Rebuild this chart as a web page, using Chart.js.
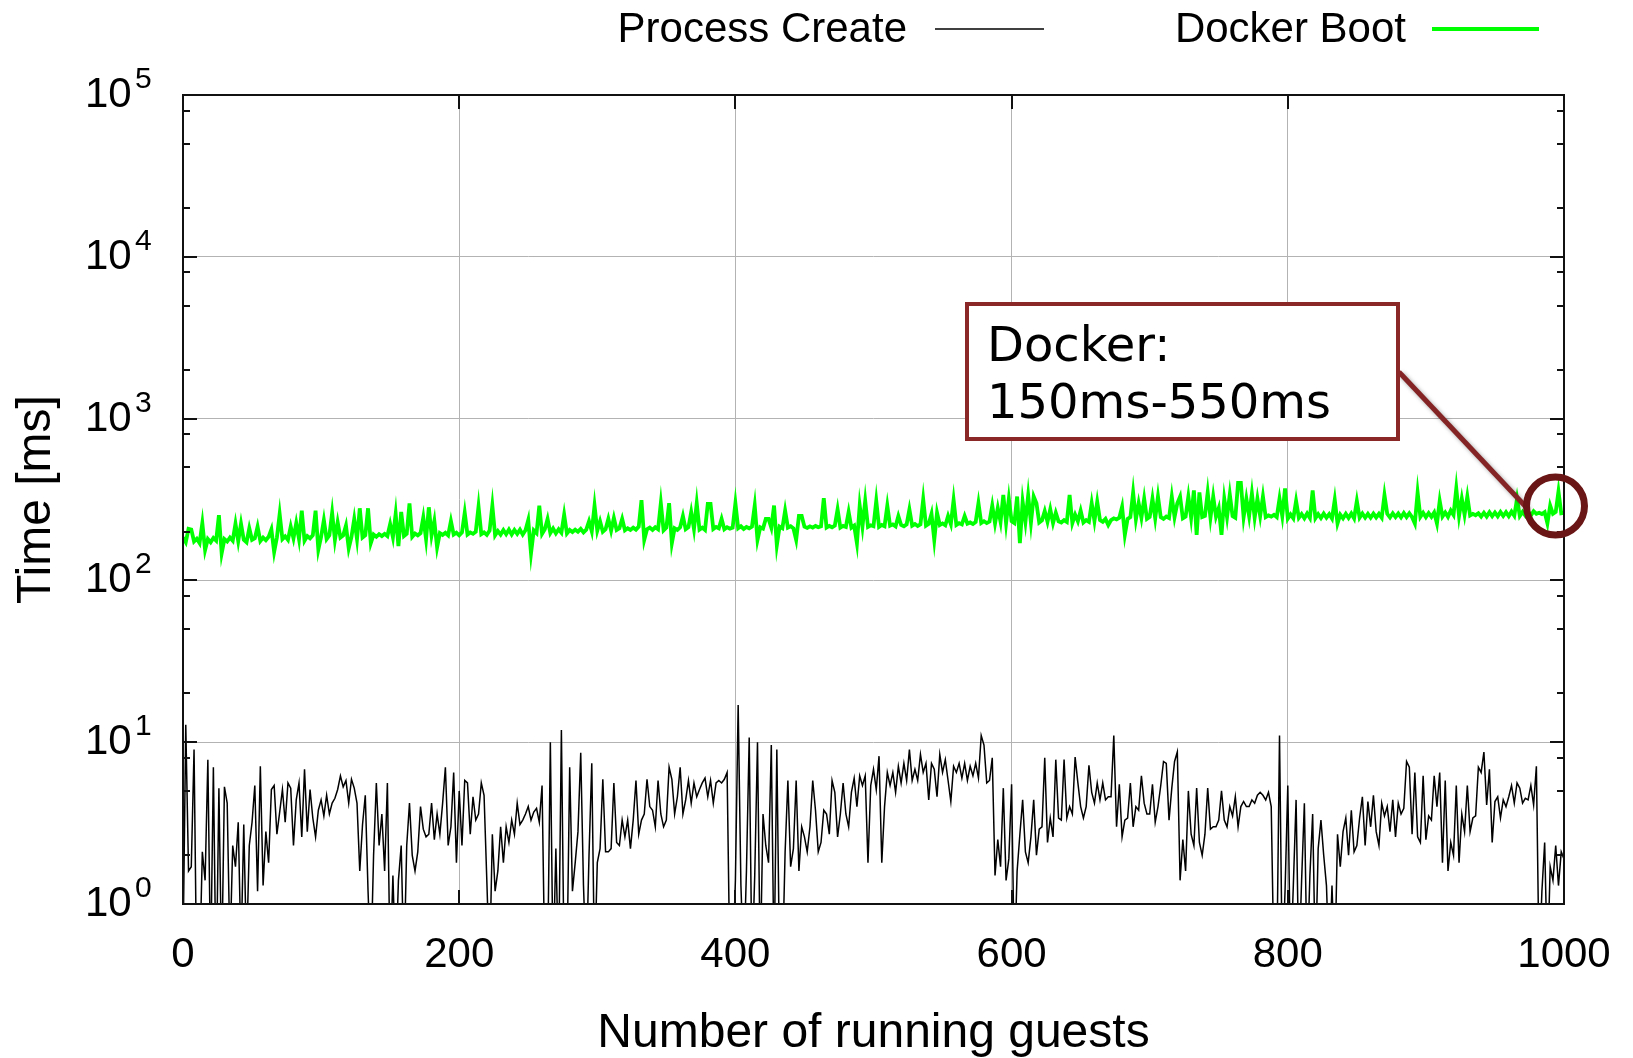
<!DOCTYPE html>
<html>
<head>
<meta charset="utf-8">
<title>Process create vs Docker boot</title>
<script src="https://cdn.jsdelivr.net/npm/chart.js@4.4.1/dist/chart.umd.min.js"></script>
<style>
    html, body { margin: 0; padding: 0; background: #fff; }
    #bootChart { display: block; }
</style>
</head>
<body>
<canvas id="bootChart" width="1633" height="1058"></canvas>
<script>
// values, one every 2 guests (0..1000)
const guestStep = 2;
const seriesNames = ['Process Create', 'Docker Boot'];
const xTicks = [0, 200, 400, 600, 800, 1000];
const yExponents = [0, 1, 2, 3, 4, 5];
const yMinorSteps = [2, 5, 8];
const noteLines = ['Docker:', '150ms-550ms'];

const processCreate = [
    0.5, 12.8, 1.6, 1.7, 9.0, 0.3, 0.4, 2.1, 1.4, 7.8,
    0.4, 7.0, 0.3, 5.2, 0.4, 5.3, 4.2, 0.5, 2.3, 1.7,
    3.2, 0.5, 3.1, 0.5, 2.3, 3.2, 5.4, 1.2, 7.1, 1.3,
    2.8, 1.8, 5.1, 5.4, 2.7, 3.7, 5.1, 3.2, 5.6, 5.2,
    2.3, 4.4, 5.6, 2.6, 6.8, 2.8, 5.1, 3.4, 2.6, 3.8,
    4.4, 3.5, 4.7, 3.6, 4.2, 4.5, 5.1, 6.2, 5.3, 5.8,
    4.2, 5.9, 5.2,
    4.2, 1.6, 3.1, 4.7, 1.2, 0.4, 2.0, 5.6, 2.3, 3.6,
    1.6, 5.6, 0.4, 1.5, 0.4, 1.4, 2.3, 0.4, 2.3, 4.2,
    2.0, 1.6, 2.1, 4.0, 2.9, 2.6, 2.7, 4.2, 2.5, 3.6,
    2.7, 4.2, 7.0, 2.3, 3.0, 6.5, 1.8, 5.0, 2.3, 5.8,
    5.6, 2.7, 4.6, 3.3, 3.6, 5.6, 4.7, 1.4, 0.4, 2.7,
    1.2, 1.6, 3.0, 1.8, 3.0, 2.4, 3.3, 2.7, 4.2, 3.1,
    3.3, 3.6, 4.0, 3.3, 3.7, 3.9, 3.2, 5.4,
    0.4, 0.4, 10.0, 0.4, 2.2, 0.4, 11.9, 0.4, 0.4, 7.0,
    1.2, 1.8, 2.8, 8.6, 1.3, 0.4, 2.0, 7.4, 0.4, 1.8,
    2.2, 5.9, 2.1, 2.1, 2.2, 5.6, 2.4, 2.3, 3.3, 2.6,
    3.3, 2.2, 3.3, 5.8, 2.7, 3.3, 3.6, 5.9, 4.0, 3.8,
    3.0, 5.8, 3.6, 3.0, 3.3, 7.0, 5.9, 3.6, 4.6, 7.0,
    3.6, 4.4, 5.8, 4.2, 5.6, 4.6, 5.1, 5.6, 6.0, 4.6,
    5.8, 4.2, 5.6, 5.8, 5.6, 5.9, 6.5, 0.4,
    0.4, 1.4, 17.0, 1.3, 0.4, 1.6, 10.7, 0.4, 1.5, 10.0,
    0.4, 3.6, 2.3, 1.8, 9.6, 0.4, 9.0, 0.4, 0.4, 2.1,
    5.8, 1.7, 2.2, 5.8, 1.6, 3.0, 2.6, 2.1, 3.0, 5.8,
    3.8, 2.1, 2.4, 3.8, 3.6, 2.7, 5.8, 4.9, 2.6, 3.6,
    5.6, 3.6, 3.0, 4.9, 6.0, 4.0, 6.2, 5.4, 6.2, 1.8,
    5.4, 6.8, 5.1, 8.2, 1.8, 4.0, 6.5, 5.4, 6.5, 4.9,
    7.1, 5.6, 7.4, 5.8, 9.0, 5.8, 6.8, 5.8, 8.4, 6.5,
    7.4, 4.4, 7.4, 6.8, 4.6, 8.4, 6.5, 7.8, 5.8, 4.3,
    7.1, 6.5, 7.4, 6.0, 7.4, 5.8, 7.1, 6.2, 7.4, 6.0,
    11.0, 9.6, 5.6, 5.8, 8.0, 1.5,
    2.5, 1.7, 5.2, 1.4, 1.9, 5.5, 0.4, 1.6, 2.7, 4.4,
    2.1, 1.8, 2.6, 4.4, 2.0, 2.9, 3.0, 8.0, 2.4, 3.4,
    2.6, 7.8, 3.4, 3.3, 7.8, 3.4, 4.0, 3.6, 8.1, 5.6,
    4.0, 3.4, 4.0, 7.2, 4.9, 4.2, 5.6, 4.4, 5.6, 4.4,
    4.6, 4.6, 11.0, 3.0, 5.5, 2.6, 3.3, 3.4, 5.6, 3.0,
    4.0, 3.8, 6.2, 4.2, 3.6, 3.6, 5.5, 3.2, 4.0, 5.4,
    7.6, 7.4, 3.3, 5.2, 7.6, 8.7, 1.4, 2.5, 1.6, 5.0,
    2.7, 2.3, 5.2, 2.4, 2.0, 2.7, 5.2, 2.9, 3.0, 3.0,
    3.3, 5.0, 3.3, 3.0, 4.0, 3.5, 4.6, 3.0, 4.0, 4.3,
    4.0, 4.0, 4.4, 4.2, 4.7, 4.9, 4.7, 4.4, 4.9, 4.0,
    0.4, 0.4, 11.0, 0.4, 1.2, 5.4, 0.4, 1.3, 4.4, 0.4,
    1.4, 4.2, 0.4, 1.5, 3.6, 0.4, 2.2, 3.3, 2.0, 1.3,
    0.4, 1.3, 0.4, 2.7, 1.7, 2.8, 3.4, 2.0, 3.8, 2.1,
    2.3, 3.4, 4.6, 2.3, 4.3, 3.0, 4.7, 2.8, 2.3, 4.2,
    3.5, 4.0, 2.8, 4.4, 2.6, 4.2, 3.6, 3.9, 7.6, 7.0,
    2.7, 6.5, 2.6, 2.4, 6.2, 2.5, 3.5, 3.3, 6.2, 4.0,
    6.5, 1.8, 5.8, 1.6, 2.4, 2.0, 5.4, 1.8, 3.6, 2.8,
    5.4, 2.8, 3.4, 3.5, 7.0, 6.5, 8.7, 4.1, 6.8, 2.4,
    4.3, 4.6, 3.4, 4.4, 4.0, 4.6, 5.4, 4.2, 5.6, 5.2,
    4.2, 4.5, 4.4, 5.4, 4.1, 7.1, 0.4, 1.2, 2.4, 0.4,
    1.7, 1.4, 2.3, 1.3, 2.1, 1.9
];

const dockerBoot = [
    184, 172, 208, 206, 174, 181, 170, 226, 154, 180,
    172, 183, 176, 253, 147, 180, 174, 184, 176, 224,
    175, 224, 178, 172, 210, 178, 182, 215, 175, 184,
    177, 186, 207, 150, 184, 257, 180, 187, 178, 215,
    182, 226, 180, 270, 176, 188, 182, 190, 270, 155,
    186, 236, 180, 190, 262, 178, 229, 184, 190, 218,
    158, 186, 240, 180, 279, 184, 190, 279, 170, 192,
    186, 193, 188, 194, 188, 223, 185, 258, 163, 265,
    188, 194, 299, 186, 195, 190, 196, 245, 180, 283,
    190, 233, 160, 196, 191, 197, 190, 233, 192, 197,
    190, 198, 262, 192, 198, 194, 200, 286, 193, 198,
    191, 203, 290, 190, 202, 192, 205, 193, 206, 192,
    205, 194, 206, 192, 204, 236, 147, 204, 196, 290,
    194, 207, 240, 196, 209, 195, 207, 197, 255, 195,
    205, 199, 206, 200, 208, 198, 206, 232, 201, 290,
    203, 232, 200, 207, 240, 203, 243, 205, 210, 240,
    204, 210, 205, 212, 206, 215, 313, 178, 207, 212,
    205, 213, 207, 300, 204, 212, 300, 170, 210, 205,
    213, 250, 207, 213, 265, 208, 300, 206, 212, 205,
    297, 297, 208, 214, 210, 240, 207, 213, 209, 212,
    300, 210, 216, 208, 214, 210, 215, 290, 178, 213,
    209, 240, 240, 212, 290, 165, 215, 210, 270, 212,
    216, 210, 178, 250, 250, 215, 211, 216, 212, 217,
    213, 216, 322, 212, 217, 213, 218, 275, 212, 217,
    214, 265, 212, 218, 170, 290, 215, 310, 214, 219,
    216, 310, 214, 220, 216, 290, 218, 222, 216, 250,
    220, 216, 222, 275, 218, 223, 217, 222, 317, 218,
    224, 258, 178, 262, 220, 225, 219, 250, 223, 314,
    220, 226, 222, 250, 224, 228, 223, 230, 300, 226,
    232, 226, 231, 290, 225, 280, 230, 338, 226, 320,
    232, 226, 330, 170, 306, 230, 335, 227, 330, 300,
    228, 235, 268, 230, 275, 226, 262, 232, 228, 236,
    230, 338, 226, 255, 232, 270, 228, 236, 230, 300,
    233, 306, 236, 230, 240, 220, 236, 242, 238, 244,
    285, 191, 240, 246, 350, 238, 300, 244, 320, 240,
    247, 320, 242, 330, 246, 240, 248, 243, 330, 246,
    300, 330, 242, 248, 330, 244, 360, 191, 350, 246,
    250, 350, 244, 330, 248, 280, 191, 320, 246, 340,
    250, 244, 400, 400, 246, 320, 250, 345, 244, 320,
    250, 330, 246, 252, 248, 254, 246, 320, 250, 370,
    241, 256, 242, 310, 244, 257, 242, 259, 243, 360,
    242, 257, 243, 259, 244, 257, 241, 315, 225, 255,
    242, 258, 243, 259, 242, 310, 244, 259, 244, 258,
    244, 259, 245, 258, 244, 337, 258, 245, 260, 246,
    259, 245, 261, 246, 260, 246, 225, 350, 247, 262,
    246, 261, 247, 263, 225, 310, 248, 263, 247, 270,
    254, 370, 250, 320, 255, 330, 252, 258, 253, 260,
    248, 262, 248, 264, 249, 263, 249, 265, 250, 264,
    249, 266, 251, 320, 250, 265, 251, 267, 252, 268,
    258, 262, 257, 264, 225, 290, 258, 265, 355, 260,
    262
];

const guests = processCreate.map((v, i) => i * guestStep);

const FONT = '"Liberation Sans", Arial, Helvetica, sans-serif';
const NOTE_RED = '#8a2828';

// gnuplot style frame, inward ticks, y labels, key and the callout
const gnuplotExtras = {
    id: 'gnuplotExtras',
    afterDatasetsDraw(chart) {
        const ctx = chart.ctx;
        const area = chart.chartArea;
        const xs = chart.scales.x;
        const ys = chart.scales.y;
        ctx.save();
        ctx.strokeStyle = '#111';
        ctx.lineWidth = 2;
        ctx.beginPath();
        // y major + minor ticks, both sides
        yExponents.forEach(function (e) {
            let y = Math.round(ys.getPixelForValue(Math.pow(10, e)));
            ctx.moveTo(area.left, y); ctx.lineTo(area.left + 14, y);
            ctx.moveTo(area.right, y); ctx.lineTo(area.right - 14, y);
            if (e < 5) {
                yMinorSteps.forEach(function (m) {
                    let ym = Math.round(ys.getPixelForValue(m * Math.pow(10, e)));
                    ctx.moveTo(area.left, ym); ctx.lineTo(area.left + 7, ym);
                    ctx.moveTo(area.right, ym); ctx.lineTo(area.right - 7, ym);
                });
            }
        });
        xTicks.forEach(function (v) {
            let x = Math.round(xs.getPixelForValue(v));
            ctx.moveTo(x, area.bottom); ctx.lineTo(x, area.bottom - 14);
            ctx.moveTo(x, area.top); ctx.lineTo(x, area.top + 14);
        });
        ctx.stroke();
        ctx.strokeRect(area.left, area.top, area.right - area.left, area.bottom - area.top);
        ctx.restore();
    },
    afterDraw(chart) {
        const ctx = chart.ctx;
        const ys = chart.scales.y;
        ctx.save();
        // y tick labels as 10^n
        ctx.fillStyle = '#000';
        ctx.textBaseline = 'alphabetic';
        ctx.textAlign = 'left';
        yExponents.forEach(function (e) {
            let y = ys.getPixelForValue(Math.pow(10, e));
            ctx.font = '42px ' + FONT;
            ctx.fillText('10', 85, y + 12);
            ctx.font = '30px ' + FONT;
            ctx.fillText(String(e), 135, y - 7);
        });

        // key: text then line sample
        ctx.font = '42px ' + FONT;
        ctx.textAlign = 'right';
        ctx.fillText(seriesNames[0], 907, 42);
        ctx.fillText(seriesNames[1], 1406, 42);
        ctx.lineCap = 'butt';
        ctx.strokeStyle = '#000';
        ctx.lineWidth = 1.5;
        ctx.beginPath(); ctx.moveTo(935, 29); ctx.lineTo(1044, 29); ctx.stroke();
        ctx.strokeStyle = '#00ff00';
        ctx.lineWidth = 4;
        ctx.beginPath(); ctx.moveTo(1432, 29); ctx.lineTo(1539, 29); ctx.stroke();

        // callout: leader line with shadow, box, circle
        ctx.save();
        ctx.shadowColor = 'rgba(0,0,0,0.35)';
        ctx.shadowBlur = 4;
        ctx.shadowOffsetX = 2;
        ctx.shadowOffsetY = 2;
        ctx.strokeStyle = '#842424';
        ctx.lineWidth = 5;
        ctx.beginPath(); ctx.moveTo(1399, 372); ctx.lineTo(1527, 508); ctx.stroke();
        ctx.restore();

        ctx.fillStyle = '#fff';
        ctx.fillRect(967, 304, 431, 135);
        ctx.strokeStyle = NOTE_RED;
        ctx.lineWidth = 4;
        ctx.strokeRect(967, 304, 431, 135);
        ctx.fillStyle = '#000';
        ctx.textAlign = 'left';
        ctx.font = '48px "DejaVu Sans", sans-serif';
        ctx.fillText(noteLines[0], 987, 361);
        ctx.fillText(noteLines[1], 987, 418);

        ctx.strokeStyle = '#6a1616';
        ctx.lineWidth = 7;
        ctx.beginPath();
        ctx.arc(1555.5, 506, 29, 0, Math.PI * 2);
        ctx.stroke();
        ctx.restore();
    }
};

window.onload = function () {
    var ctx = document.getElementById('bootChart').getContext('2d');
    var bootChart = new Chart(ctx, {
        type: 'line',
        data: {
            datasets: [{
                label: seriesNames[0],
                data: guests.map((g, i) => ({ x: g, y: processCreate[i] })),
                borderColor: '#000',
                borderWidth: 1.5,
                pointRadius: 0,
                tension: 0
            }, {
                label: seriesNames[1],
                data: guests.map((g, i) => ({ x: g, y: dockerBoot[i] })),
                borderColor: '#00ff00',
                borderWidth: 3.8,
                pointRadius: 0,
                tension: 0
            }]
        },
        options: {
            responsive: false,
            animation: false,
            devicePixelRatio: 1,
            layout: { padding: { top: 95, right: 69, bottom: 0, left: 0 } },
            plugins: {
                legend: { display: false },
                tooltip: { enabled: false }
            },
            scales: {
                x: {
                    type: 'linear',
                    min: 0,
                    max: 1000,
                    afterBuildTicks: s => { s.ticks = xTicks.map(v => ({ value: v })); },
                    afterFit: s => { s.height = 154; s.paddingLeft = 0; s.paddingRight = 0; },
                    ticks: {
                        font: { family: FONT, size: 42 },
                        color: '#000',
                        padding: 26,
                        maxRotation: 0,
                        autoSkip: false,
                        callback: v => String(v)
                    },
                    grid: { color: '#b3b3b3', lineWidth: 1, drawTicks: false },
                    border: { display: false },
                    title: {
                        display: true,
                        text: 'Number of running guests',
                        color: '#000',
                        font: { family: FONT, size: 48, lineHeight: 1 },
                        padding: { top: 0, bottom: 0 }
                    }
                },
                y: {
                    type: 'logarithmic',
                    min: 1,
                    max: 100000,
                    afterBuildTicks: s => { s.ticks = yExponents.map(e => ({ value: Math.pow(10, e) })); },
                    afterFit: s => { s.width = 183; s.paddingTop = 0; s.paddingBottom = 0; },
                    ticks: { display: false },
                    grid: { color: '#b3b3b3', lineWidth: 1, drawTicks: false },
                    border: { display: false },
                    title: {
                        display: true,
                        text: 'Time [ms]',
                        color: '#000',
                        font: { family: FONT, size: 48, lineHeight: 1 },
                        padding: { top: 13, bottom: 0 }
                    }
                }
            }
        },
        plugins: [gnuplotExtras]
    });
};
</script>
</body>
</html>
